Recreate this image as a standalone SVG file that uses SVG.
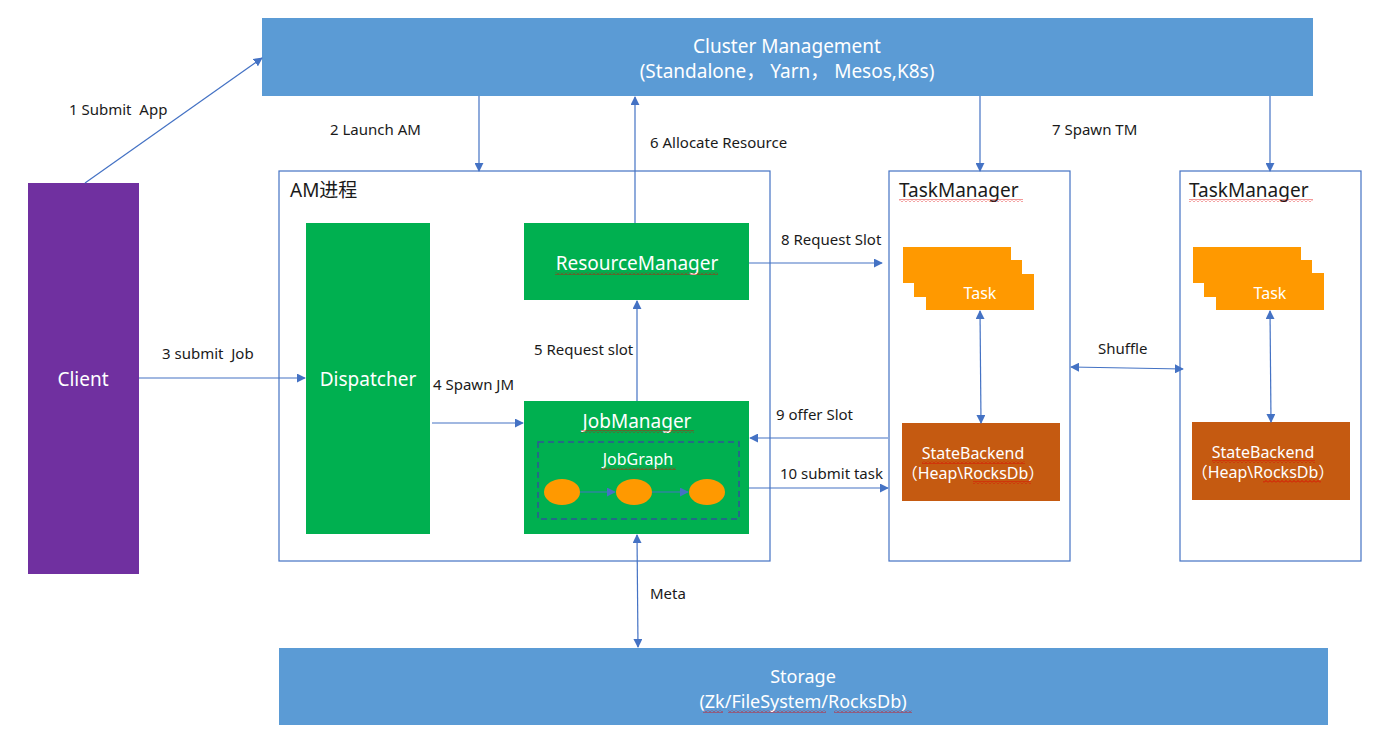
<svg xmlns="http://www.w3.org/2000/svg" width="1374" height="735" viewBox="0 0 1374 735">
<style>
.t{font-family:"Noto Sans","Noto Sans CJK SC",sans-serif;}
.lbl{font-family:"Noto Sans","Noto Sans CJK SC",sans-serif;font-size:15px;fill:#1a1a1a;white-space:pre;}
.w{fill:#ffffff;}
.c{text-anchor:middle;}
.ln{stroke:#4472C4;stroke-width:1.2;fill:none;}
.box{fill:#ffffff;stroke:#4472C4;stroke-width:1.2;}
.blue{fill:#5B9BD5;}
.green{fill:#00B050;}
.orange{fill:#FF9900;}
.brown{fill:#C55A11;}
.sq{fill:url(#squig);}
</style>
<defs>
<marker id="ah" viewBox="0 0 10 10" refX="9" refY="5" markerWidth="9" markerHeight="9" markerUnits="userSpaceOnUse" orient="auto-start-reverse">
<path d="M0,0 L10,5 L0,10 z" fill="#4472C4"/>
</marker>
<pattern id="squig" width="4" height="3" patternUnits="userSpaceOnUse">
<path d="M0,2.5 L2,0.5 L4,2.5" stroke="#E00000" stroke-width="0.8" fill="none"/>
</pattern>
</defs>

<g id="cluster">
<rect class="blue" x="262" y="18" width="1051" height="78"/>
<text class="t w c" x="787" y="53" font-size="19">Cluster Management</text>
<text class="t w c" x="787" y="78" font-size="19">(Standalone， Yarn， Mesos,K8s)</text>
</g>

<g id="client">
<rect fill="#7030A0" x="28" y="183" width="111" height="391"/>
<text class="t w c" x="83" y="386" font-size="19">Client</text>
</g>

<g id="am">
<rect class="box" x="279" y="171" width="491" height="390"/>
<text class="t" x="290" y="197" font-size="19" fill="#1a1a1a">AM进程</text>
</g>

<g id="dispatcher">
<rect class="green" x="306" y="223" width="124" height="311"/>
<text class="t w c" x="368" y="386" font-size="19">Dispatcher</text>
</g>

<g id="resourcemanager">
<rect class="green" x="524" y="223" width="225" height="77"/>
<text class="t w c" x="637" y="270" font-size="19">ResourceManager</text>
<rect class="sq" x="555" y="272" width="163" height="3"/>
</g>

<g id="jobmanager">
<rect class="green" x="524" y="401" width="225" height="133"/>
<text class="t w c" x="637" y="428" font-size="19">JobManager</text>
<rect class="sq" x="581" y="430" width="113" height="3"/>
<rect x="538" y="442" width="201" height="77" fill="none" stroke="#2F5597" stroke-width="1.5" stroke-dasharray="6,4"/>
<text class="t w c" x="638" y="465" font-size="16">JobGraph</text>
<rect class="sq" x="601" y="467" width="75" height="3"/>
<ellipse class="orange" cx="562" cy="492" rx="18" ry="13"/>
<ellipse class="orange" cx="634" cy="492" rx="18" ry="13"/>
<ellipse class="orange" cx="707" cy="492" rx="18" ry="13"/>
<line class="ln" x1="580" y1="492" x2="615" y2="492" marker-end="url(#ah)"/>
<line class="ln" x1="652" y1="492" x2="688" y2="492" marker-end="url(#ah)"/>
</g>

<g id="taskmanager1">
<rect class="box" x="889" y="171" width="181" height="390"/>
<text class="t" x="899" y="197" font-size="19" fill="#1a1a1a">TaskManager</text>
<rect class="sq" x="899" y="199" width="124" height="3"/>
<rect class="orange" x="903" y="247" width="108" height="36"/>
<rect class="orange" x="914" y="260" width="108" height="37"/>
<rect class="orange" x="926" y="274" width="108" height="36"/>
<text class="t w c" x="980" y="299" font-size="16">Task</text>
<rect class="brown" x="902" y="423" width="158" height="78"/>
<text class="t w c" x="973" y="459" font-size="16">StateBackend</text>
<rect class="sq" x="922" y="461" width="103" height="3"/>
<text class="t w c" x="973" y="479" font-size="16">（Heap\RocksDb）</text>
<rect class="sq" x="973" y="481" width="58" height="3"/>
</g>

<g id="taskmanager2">
<rect class="box" x="1180" y="171" width="181" height="390"/>
<text class="t" x="1189" y="197" font-size="19" fill="#1a1a1a">TaskManager</text>
<rect class="sq" x="1189" y="199" width="124" height="3"/>
<rect class="orange" x="1193" y="247" width="108" height="36"/>
<rect class="orange" x="1204" y="260" width="108" height="37"/>
<rect class="orange" x="1216" y="273" width="108" height="37"/>
<text class="t w c" x="1270" y="299" font-size="16">Task</text>
<rect class="brown" x="1192" y="422" width="158" height="78"/>
<text class="t w c" x="1263" y="458" font-size="16">StateBackend</text>
<rect class="sq" x="1212" y="460" width="103" height="3"/>
<text class="t w c" x="1263" y="478" font-size="16">（Heap\RocksDb）</text>
<rect class="sq" x="1263" y="480" width="58" height="3"/>
</g>

<g id="storage">
<rect class="blue" x="279" y="648" width="1049" height="77"/>
<text class="t w c" x="803" y="683" font-size="18">Storage</text>
<text class="t w c" x="803" y="708" font-size="18">(Zk/FileSystem/RocksDb)</text>
<rect class="sq" x="703" y="710" width="20" height="3"/>
<rect class="sq" x="728" y="710" width="98" height="3"/>
<rect class="sq" x="834" y="710" width="78" height="3"/>
</g>

<g id="connectors">
<line class="ln" x1="85" y1="183" x2="262" y2="58" marker-end="url(#ah)"/>
<line class="ln" x1="479" y1="96" x2="479" y2="171" marker-end="url(#ah)"/>
<line class="ln" x1="139" y1="378" x2="305" y2="378" marker-end="url(#ah)"/>
<line class="ln" x1="432" y1="423" x2="523" y2="423" marker-end="url(#ah)"/>
<line class="ln" x1="637" y1="401" x2="637" y2="301" marker-end="url(#ah)"/>
<line class="ln" x1="635" y1="223" x2="635" y2="97" marker-end="url(#ah)"/>
<line class="ln" x1="749" y1="263" x2="882" y2="263" marker-end="url(#ah)"/>
<line class="ln" x1="888" y1="438" x2="750" y2="438" marker-end="url(#ah)"/>
<line class="ln" x1="749" y1="488" x2="888" y2="488" marker-end="url(#ah)"/>
<line class="ln" x1="980" y1="96" x2="980" y2="171" marker-end="url(#ah)"/>
<line class="ln" x1="1270" y1="96" x2="1270" y2="171" marker-end="url(#ah)"/>
<line class="ln" x1="980" y1="311" x2="981" y2="423" marker-start="url(#ah)" marker-end="url(#ah)"/>
<line class="ln" x1="1270" y1="311" x2="1271" y2="422" marker-start="url(#ah)" marker-end="url(#ah)"/>
<line class="ln" x1="1071" y1="367" x2="1183" y2="369" marker-start="url(#ah)" marker-end="url(#ah)"/>
<line class="ln" x1="637" y1="535" x2="638" y2="647" marker-start="url(#ah)" marker-end="url(#ah)"/>
<text class="lbl" x="69" y="115" xml:space="preserve">1 Submit  App</text>
<text class="lbl" x="330" y="135">2 Launch AM</text>
<text class="lbl" x="162" y="359" xml:space="preserve">3 submit  Job</text>
<text class="lbl" x="433" y="390">4 Spawn JM</text>
<text class="lbl" x="534" y="355">5 Request slot</text>
<text class="lbl" x="650" y="148">6 Allocate Resource</text>
<text class="lbl" x="1052" y="135">7 Spawn TM</text>
<text class="lbl" x="781" y="245">8 Request Slot</text>
<text class="lbl" x="776" y="420">9 offer Slot</text>
<text class="lbl" x="780" y="479">10 submit task</text>
<text class="lbl" x="1098" y="354">Shuffle</text>
<text class="lbl" x="650" y="599">Meta</text>
</g>
</svg>
